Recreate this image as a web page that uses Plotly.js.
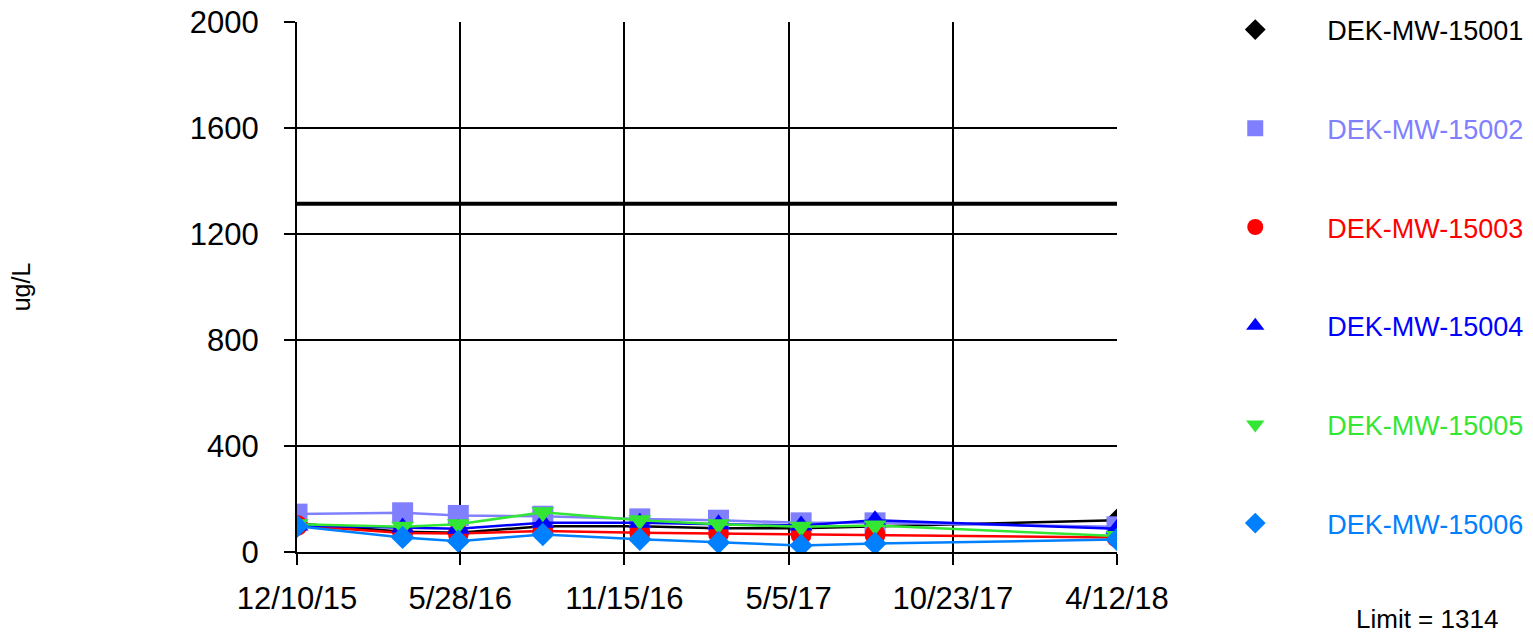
<!DOCTYPE html>
<html>
<head>
<meta charset="utf-8">
<script src="https://cdn.plot.ly/plotly-3.0.1.min.js"></script>
<style>html,body{margin:0;padding:0;background:#fff;}#chart{width:1533px;height:635px;}</style>
</head>
<body>
<div id="chart"></div>
<script>
const sampleDates = ['2015-12-10','2016-03-29','2016-05-26','2016-08-22','2016-12-01','2017-02-21','2017-05-18','2017-08-03','2018-04-12'];
const mw15001 = [108, 76, 73, 97, 97, 90, 90, 97, 120];
const mw15002 = [143, 148, 138, 135, 125, 120, 110, 110, 95];
const mw15003 = [100, 72, 70, 79, 73, 70, 66, 66, 55];
const mw15004 = [100, 92, 88, 110, 110, 105, 100, 120, 88];
const mw15005 = [105, 95, 105, 150, 120, 105, 95, 100, 60];
const mw15006 = [97, 55, 41, 66, 48, 36, 25, 32, 47];
const seriesNames = ['DEK-MW-15001','DEK-MW-15002','DEK-MW-15003','DEK-MW-15004','DEK-MW-15005','DEK-MW-15006'];
const limitValue = 1314;
const xTickVals = ['2015-12-10','2016-05-28','2016-11-15','2017-05-05','2017-10-23','2018-04-12'];
const xTickText = ['12/10/15','5/28/16','11/15/16','5/5/17','10/23/17','4/12/18'];
const yTickVals = [0, 400, 800, 1200, 1600, 2000];

const colors = ['#000000','#8080FF','#FF0000','#0000FF','#33E633','#0080FF'];
const symbols = ['diamond','square','circle','triangle-up','triangle-down','diamond'];
const sizes = [18, 21, 21, 20, 20, 18];
const values = [mw15001, mw15002, mw15003, mw15004, mw15005, mw15006];

const traces = [];
values.forEach((v, i) => {
  traces.push({
    type: 'scatter', mode: 'lines', x: sampleDates, y: v,
    showlegend: false, hoverinfo: 'skip',
    line: {color: colors[i], width: 2.5}
  });
  traces.push({
    type: 'scatter', mode: 'markers', x: sampleDates, y: v,
    name: '<span style="color:' + colors[i] + '">' + seriesNames[i] + '</span>',
    legendgroup: 'g' + i,
    marker: {color: colors[i], symbol: symbols[i], size: sizes[i], line: {width: 0}}
  });
});

const layout = {
  width: 1533, height: 635,
  margin: {l: 297, r: 416, t: 22, b: 83, autoexpand: false},
  paper_bgcolor: '#fff', plot_bgcolor: '#fff',
  font: {family: 'Liberation Sans, Arial, sans-serif', color: '#000'},
  showlegend: true,
  legend: {
    x: 1.0808, xanchor: 'left', y: 1.031, yanchor: 'top',
    itemwidth: 134, tracegroupgap: 60.6, traceorder: 'grouped',
    maxheight: 2000,
    font: {size: 27}, bgcolor: 'rgba(0,0,0,0)'
  },
  xaxis: {
    type: 'date', range: ['2015-12-10', '2018-04-12'],
    tickvals: xTickVals, ticktext: xTickText,
    showgrid: true, gridcolor: '#000', gridwidth: 2,
    showline: true, linecolor: '#000', linewidth: 2,
    ticks: 'outside', ticklen: 11, tickwidth: 2, tickcolor: '#000',
    tickfont: {size: 31}, zeroline: false, ticklabelstandoff: 7
  },
  yaxis: {
    range: [0, 2000], tickvals: yTickVals,
    showgrid: true, gridcolor: '#000', gridwidth: 2,
    showline: true, linecolor: '#000', linewidth: 2,
    ticks: 'outside', ticklen: 11, tickwidth: 2, tickcolor: '#000',
    tickfont: {size: 31}, zeroline: false, ticklabelstandoff: 19,
    title: {text: 'ug/L', font: {size: 25}, standoff: 152}
  },
  shapes: [{
    type: 'line', xref: 'paper', x0: 0, x1: 1, yref: 'y', y0: limitValue, y1: limitValue,
    line: {color: '#000', width: 4}
  }],
  annotations: [{
    xref: 'paper', yref: 'paper', x: 1.378, y: -0.1264, xanchor: 'center', yanchor: 'middle',
    text: 'Limit = ' + limitValue, showarrow: false, font: {size: 26, color: '#000'}
  }]
};

Plotly.newPlot('chart', traces, layout, {displayModeBar: false, staticPlot: true});
</script>
</body>
</html>
